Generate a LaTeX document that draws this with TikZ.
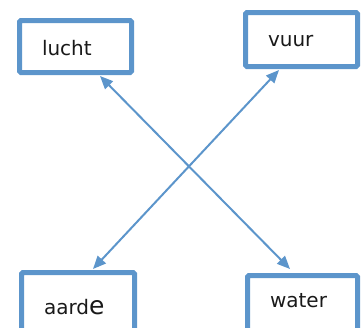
\documentclass[tikz,border=0pt]{standalone}
\usepackage{fontspec}
\setmainfont{DejaVu Sans}
\usetikzlibrary{arrows.meta}
\definecolor{elemblue}{RGB}{92,149,203}
\tikzset{
  elembox/.style={draw=elemblue, line width=5pt, rounded corners=1.5pt,
    inner xsep=22.5pt, inner ysep=0pt, align=left, anchor=base,
    font=\fontsize{20}{20}\selectfont, text=black!90},
  link/.style={draw=elemblue, line width=2pt,
    {Triangle[length=13pt,width=11pt]}-{Triangle[length=13pt,width=11pt]}}
}
\begin{document}
\begin{tikzpicture}[x=1pt,y=-1pt]
\useasboundingbox (0,0) rectangle (361,327);
% the four elements
\node[elembox, text width=67pt, text height=34.5pt, text depth=17.5pt] (lucht) at (75.5,55) {lucht};
\node[elembox, text width=67pt, text height=33.5pt, text depth=20.5pt] (vuur) at (301.5,46) {vuur};
\node[elembox, text width=68pt, text height=41.5pt, text depth=31pt] (aarde) at (78,314) {aard{\fontsize{25}{25}\selectfont e}};
\node[elembox, text width=65pt, text height=31.5pt, text depth=38pt] (water) at (302.5,307) {water};
% crossing connections
\draw[link] ([xshift=24.5pt,yshift=-1pt]lucht.south) -- ([xshift=-12.5pt,yshift=4pt]water.north);
\draw[link] ([xshift=-22.5pt,yshift=-1pt]vuur.south) -- ([xshift=15pt,yshift=1pt]aarde.north);
\end{tikzpicture}
\end{document}
